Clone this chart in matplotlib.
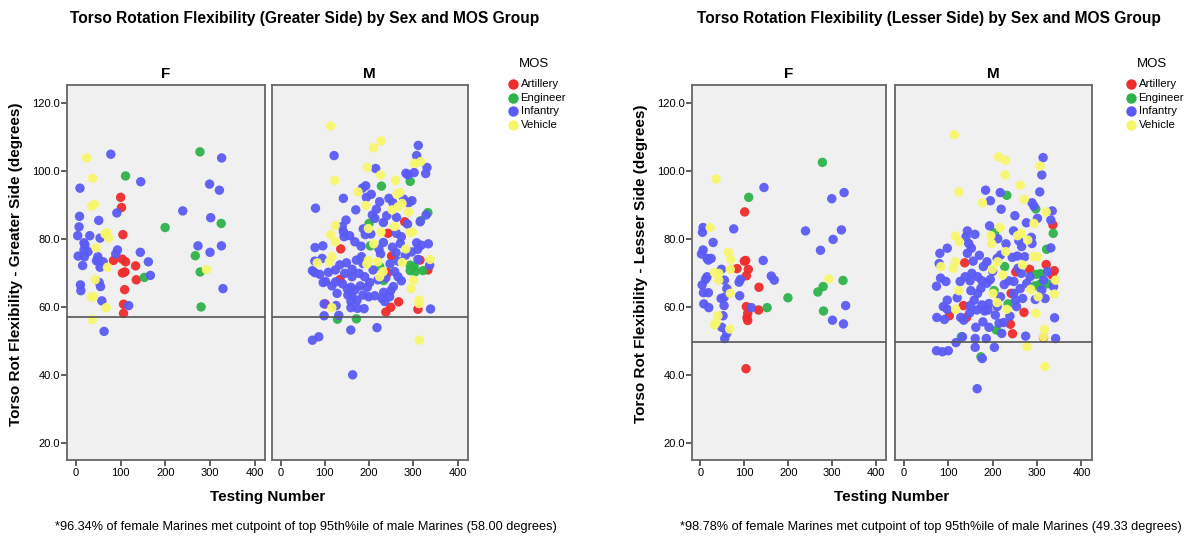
import matplotlib
matplotlib.use('Agg')
import matplotlib.pyplot as plt

plt.rcParams['font.family'] = ['Liberation Sans', 'DejaVu Sans']

W, H = 1189, 538

mos_names = ['Artillery', 'Engineer', 'Infantry', 'Vehicle']
mos_colors = ['#EE2C2C', '#2DB34A', '#5A5AF6', '#F7F76C']

titles = ['Torso Rotation Flexibility (Greater Side) by Sex and MOS Group',
          'Torso Rotation Flexibility (Lesser Side) by Sex and MOS Group']
ylabels = ['Torso Rot Flexibility - Greater Side (degrees)',
           'Torso Rot Flexibility - Lesser Side (degrees)']
notes = ['*96.34% of female Marines met cutpoint of top 95th%ile of male Marines (58.00 degrees)',
         '*98.78% of female Marines met cutpoint of top 95th%ile of male Marines (49.33 degrees)']
cutpoints = [57.0, 49.6]
yticks = [20, 40, 60, 80, 100, 120]
xticks = [0, 100, 200, 300, 400]

# ---- greater side, female: (testing number, degrees)
gF_art = [(100, 92.3), (102, 89.3), (105, 81.3), (84, 73.7), (103.5, 74.1), (111, 73.3),
          (133.5, 72.1), (104, 70), (109.5, 70.3), (135, 68), (109, 65.1), (106.5, 60.8),
          (106.5, 58.1)]
gF_eng = [(277.5, 105.7), (111, 98.6), (199.5, 83.4), (325, 84.6), (267, 75.1), (278, 70.3),
          (153, 68.7), (280, 60)]
gF_inf = [(78, 105), (9, 95), (145, 96.9), (91.5, 87.7), (8, 86.7), (51, 85.5), (7, 83.6),
          (4, 81), (31, 81), (54, 80.3), (18, 78.9), (20, 78.3), (18, 76.8), (27, 76.3),
          (5, 75), (19, 74.8), (49, 74.8), (50, 73.8), (46, 73.6), (61, 73.3), (15, 72.2),
          (54, 71.7), (93, 76.8), (89, 75.6), (144, 76.1), (162, 73.3), (166.5, 69.3),
          (10, 66.5), (11, 64.8), (52, 67.2), (55, 66), (58, 61.8), (118, 60.4), (63, 52.8),
          (239, 88.3), (326, 103.9), (299, 96.2), (321, 94.4), (301.5, 86.3), (273, 78),
          (325.5, 78), (300, 76.1), (329, 65.4)]
gF_veh = [(24, 103.9), (37.5, 97.9), (35, 89.7), (41, 90.2), (69, 81.9), (65, 81.5),
          (73, 80.3), (45, 77.4), (70.5, 71.7), (43, 68), (34, 63), (39, 63), (67.5, 59.8),
          (37, 56.3), (292, 71)]

# ---- greater side, male
gM_art = [(136, 77.1), (134.5, 68.1), (243, 81.7), (251, 75), (242.5, 70.1), (280.6, 85.1),
          (333, 70.9), (315, 73.8), (267, 61.5), (249, 59.9), (238, 58.5), (310.5, 59.3),
          (101, 60.9)]
gM_eng = [(228, 95.6), (293, 97), (333, 87.8), (200, 84.6), (203, 78), (224, 71.9),
          (233, 67.8), (293, 72.3), (302, 71.9), (293, 70.7), (304.5, 70.4), (322, 70.7),
          (128.6, 56.4), (171.5, 56.5), (316.6, 85.4)]
gM_inf = [(121, 104.6), (311.3, 107.6), (307.6, 104.6), (331, 101.1), (328, 99.3),
          (283.5, 99.4), (288, 98.9), (302, 99.6), (215, 100.8), (192.5, 95.7), (185, 95),
          (205, 93.2), (194, 92.3), (142, 92), (79, 89.1), (245, 92), (254, 90.7), (297, 91.3),
          (289.5, 90.7), (216.6, 88.8), (207.5, 87.1), (213, 86.1), (148, 85.6), (139.5, 83.7),
          (142, 82.2), (143.6, 80.7), (232.4, 84.9), (187, 83), (191.5, 81.3), (204, 81.5),
          (168, 79.2), (232.4, 79), (287, 84.4), (329, 87.1), (315.6, 85.1), (273, 80.7),
          (270.6, 78.7), (253, 77.6), (261, 76), (307.6, 78.9), (310, 77), (334, 78.6),
          (222.5, 77.1), (78, 77.5), (95.5, 78), (94, 74.3), (77.4, 73.5), (72, 70.7),
          (77.4, 70.1), (88.7, 69.6), (96.3, 67.2), (124, 70.9), (134, 72.4), (149, 73),
          (145, 69.9), (161.7, 71.1), (161.7, 68.9), (171.5, 73.8), (183, 74.8), (186.5, 72.8),
          (177.5, 69.9), (190, 68.9), (209, 70.9), (201.5, 67.2), (247.4, 72.7), (258, 70.4),
          (273, 67.7), (265.5, 68.9), (337, 72.3), (310.5, 74), (124.6, 67.4), (127.8, 64),
          (151, 65.3), (159, 65.8), (168, 65), (161, 63.2), (159, 61.7), (173, 62),
          (186.5, 63.5), (199.3, 63), (213, 63.3), (229.4, 62.5), (235.4, 61.6), (246.6, 63),
          (249, 64.8), (233, 64.3), (159, 59.8), (173.7, 59.6), (188.8, 59.5), (98.5, 60.9),
          (125.6, 60.4), (98.5, 57.4), (131.6, 57.5), (339, 59.4), (158.7, 53.2), (218, 53.9),
          (72, 50.2), (86.5, 51.2), (163, 40), (101.5, 67.5), (261.7, 81.7), (318, 78.2),
          (296, 76.2), (255, 66), (220, 68), (152, 63.5), (140, 66.8), (180, 66.2), (196, 65.8),
          (238, 68.6), (226, 75.6), (266, 73.5), (282, 75.2), (240, 86.9), (224, 91), (262, 86.4),
          (278, 91.8), (170, 88.6), (156, 81), (182, 77.9), (116, 66.2), (108, 70.2)]
gM_veh = [(113, 113.3), (210.6, 106.9), (227, 108.9), (196, 101.1), (226, 98.9),
          (122.6, 97.3), (260, 97.3), (175, 93.9), (263, 93.2), (270, 93.7), (193, 89.9),
          (274.5, 90.5), (265.5, 89.5), (252, 88.6), (289.5, 88), (303, 102.3), (316.6, 102.8),
          (124, 84), (113, 81.3), (124, 79.2), (198.5, 83.1), (258, 83.7), (227, 82), (292, 81.9),
          (298, 82.1), (210.6, 78.6), (283, 77.1), (116, 74.8), (110, 73.3), (83, 73),
          (198.5, 73.8), (195, 72.6), (220, 73.3), (275, 73.1), (338, 74), (231.6, 70.4),
          (224, 68.9), (300.8, 67.9), (295.5, 65.4), (313, 62), (313, 61), (116, 59.8),
          (313.6, 50.2)]

# ---- lesser side, female
lF_art = [(100.8, 88), (100, 73.5), (103, 73.7), (83.4, 71.3), (109, 71.1), (104.8, 69.2),
          (133.4, 65.8), (104.6, 60.1), (107.7, 58.1), (106, 56.8), (107.7, 56), (132.6, 59.1),
          (103.8, 41.8)]
lF_eng = [(278, 102.6), (110, 92.3), (325, 67.8), (279.7, 66), (267.6, 64.4), (199.4, 62.7),
          (152, 59.8), (280.5, 58.8)]
lF_inf = [(144.8, 95.2), (299.4, 91.9), (327.5, 93.7), (6, 83.4), (4.5, 82), (75.8, 83),
          (239.5, 82.4), (321.4, 82.7), (302.4, 79.9), (28.8, 79), (6, 76.8), (2.3, 75.6),
          (15, 74.3), (24.3, 74.3), (18, 73.8), (143, 73.7), (273.6, 76.7), (47.8, 71.1),
          (15, 68.9), (11.4, 68.1), (54.6, 67.9), (60, 65.4), (91, 68.1), (88, 67.3),
          (161.5, 69.1), (168.3, 67.9), (3.8, 66.5), (6.8, 64.2), (18, 64.2), (89.4, 63.3),
          (47, 62.5), (53.8, 62.8), (53.8, 60.4), (7.6, 60.9), (19, 59.8), (116, 59.8),
          (51.5, 57.4), (48.5, 54), (60, 52.2), (55.3, 50.7), (301, 56.1), (326, 55),
          (331, 60.4)]
lF_veh = [(35.6, 97.7), (22, 83.4), (63.7, 76.1), (69, 74), (68, 71.1), (32, 70.1),
          (41.7, 69.9), (41.7, 67.9), (68, 64), (40, 57.4), (32, 54.7), (35.6, 55.4),
          (66.7, 53.5), (292.6, 68.3)]

# ---- lesser side, male
lM_art = [(335.6, 84.2), (137, 73), (320.5, 72.5), (338.6, 70.7), (334, 69.4), (283, 71.1),
          (252, 70.3), (241.6, 64), (134, 60.4), (141, 56.9), (102.3, 57.4), (270.5, 58.4),
          (240, 54.9), (244.7, 52.1), (314.4, 51)]
lM_eng = [(231.8, 92.9), (297, 88.9), (336.4, 81.7), (203.8, 81.9), (321.4, 77), (227, 71.9),
          (298.5, 69.6), (307.6, 69.8), (294.7, 66.2), (306.8, 66.7), (323.5, 66.8), (203, 64.8),
          (234.8, 60.9), (208.3, 53.2), (173.5, 45.3), (129.5, 51.2)]
lM_inf = [(313.6, 104), (310.6, 98.9), (306, 93.9), (184, 94.4), (217, 93.7), (194.7, 91.3),
          (219, 88.8), (288.6, 90.7), (293, 89.7), (334, 88.3), (331, 85.6), (300.8, 86.1),
          (193, 83.9), (143, 82.4), (140, 80.7), (146, 78.7), (247, 82.4), (211.4, 80.1),
          (259, 79.5), (265.1, 77.8), (287, 80.5), (288.6, 78.7), (331, 77.4), (81, 75.8),
          (97.7, 77.3), (79.5, 72.8), (152, 77.3), (143, 75.8), (187, 73.3), (179, 71.9),
          (210, 74.3), (217.6, 75.3), (244, 74.6), (255.3, 75), (272, 74.8), (257, 71.4),
          (264.4, 69.9), (82.6, 68.5), (94.7, 67.5), (73.5, 66.1), (126.7, 67.5), (138, 68.9),
          (153, 69.9), (149, 67.7), (166, 68.9), (175.8, 67.7), (187, 67), (194.7, 68.1),
          (236.4, 67.7), (247.8, 67.5), (276.5, 66.9), (284, 68.9), (337, 66), (318, 62.5),
          (310.6, 65), (150.8, 64.8), (166, 64), (173.5, 65.5), (158.3, 62), (97.7, 62),
          (88.7, 60.1), (97.7, 59.3), (149.4, 60.4), (164.5, 59.1), (175.8, 60.6), (181.8, 58.8),
          (191.7, 61), (189.4, 59.1), (217.6, 63), (247.8, 64), (251.6, 62), (267.4, 62.5),
          (210, 60.1), (238.7, 57.3), (253.8, 60.1), (74.2, 56.9), (91.3, 56.3), (128, 56.9),
          (134.8, 56.1), (162, 54), (191.7, 54), (214.4, 55.2), (225, 55.4), (220.4, 52.2),
          (132, 51.2), (160.6, 50.7), (185.6, 50.7), (203.8, 48.1), (274.2, 51.4), (341.7, 50.7),
          (117.4, 49.5), (73.5, 47.1), (86.7, 46.8), (100, 47.1), (160.6, 48.1), (176.5, 44.8),
          (165, 35.9), (339.4, 56.8), (315, 67.9), (323.5, 70.4), (156, 73.5), (170, 75.2),
          (200, 70.5), (226, 66.6), (262, 65.4), (296, 62.2), (206, 57.6), (178, 55.6),
          (148, 58.2), (230, 78.6), (276, 84.8), (250, 86.9), (160, 81.4), (120, 62.7)]
lM_veh = [(113.6, 110.7), (213, 104.2), (229, 103.2), (228, 98.9), (306.8, 101.5), (124, 93.9),
          (262, 95.9), (177, 90.7), (271, 91.7), (320.5, 88), (293, 84.6), (216.6, 83.4),
          (116, 80.9), (125, 79.2), (196, 81), (197.7, 78.7), (256, 81), (264.4, 81.7),
          (279, 79.7), (229.5, 76.3), (291.7, 74.8), (301, 74.8), (116, 73.3), (111.4, 71.4),
          (83.3, 71.9), (211.4, 73.3), (267.4, 72.4), (199.3, 71.1), (222.7, 69.4), (341.7, 67.9),
          (124, 64.8), (200.8, 64), (285.6, 65.2), (302.3, 63), (338.6, 63.8), (210, 61.3),
          (116.7, 59.3), (231.8, 59.3), (297.7, 58.1), (316.7, 53.4), (314.4, 51.2), (277.3, 48.3),
          (317.4, 42.4)]

panels = [
    {'F': [gF_art, gF_eng, gF_inf, gF_veh], 'M': [gM_art, gM_eng, gM_inf, gM_veh]},
    {'F': [lF_art, lF_eng, lF_inf, lF_veh], 'M': [lM_art, lM_eng, lM_inf, lM_veh]},
]

# pixel boxes (left, top, right, bottom) for F and M facets of each panel
boxes = [
    [(67, 85, 265, 460), (271.7, 85, 467.7, 460)],
    [(691.7, 85, 886, 460), (895, 85, 1091.7, 460)],
]
panel_shift = [0, 624.5]
legend_shift = [0, 618]

fig = plt.figure(figsize=(W / 100, H / 100), dpi=100)


def px_axes(b):
    x0, y0, x1, y1 = b
    return fig.add_axes([x0 / W, 1 - y1 / H, (x1 - x0) / W, (y1 - y0) / H])


def fx(x):
    return x / W


def fy(y):
    return 1 - y / H


for p in range(2):
    for k, sex in enumerate(['F', 'M']):
        ax = px_axes(boxes[p][k])
        ax.set_facecolor('#F0F0F0')
        for grp, col in zip(panels[p][sex], mos_colors):
            xs = [v[0] for v in grp]
            ys = [v[1] for v in grp]
            ax.scatter(xs, ys, s=46, color=col, edgecolors='none', alpha=0.95, zorder=3)
        ax.axhline(cutpoints[p], color='#555555', lw=1.2, zorder=4)
        ax.set_xlim(-20, 423)
        ax.set_ylim(14.9, 125.4)
        ax.set_xticks(xticks)
        ax.set_xticklabels([str(t) for t in xticks], fontsize=8)
        for s in ax.spines.values():
            s.set_color('#666666')
            s.set_linewidth(1.3)
        ax.tick_params(axis='x', length=4, width=1.2, color='#444444', pad=2)
        if sex == 'F':
            ax.set_yticks(yticks)
            ax.set_yticklabels(['%.1f' % t for t in yticks], fontsize=8)
            ax.tick_params(axis='y', length=4, width=1.2, color='#444444', pad=1)
        else:
            ax.set_yticks([])
        x0, y0, x1, y1 = boxes[p][k]
        fig.text(fx((x0 + x1) / 2), fy(74), sex, ha='center', va='center',
                 fontsize=11, fontweight='bold')

    dx = panel_shift[p]
    fig.text(fx(305.5 + dx - 1), fy(18), titles[p], ha='center', va='center',
             fontsize=11.2, fontweight='bold')
    fig.text(fx(16 + dx), fy(264), ylabels[p], ha='center', va='center', rotation=90,
             fontsize=11, fontweight='bold')
    xl = (boxes[p][0][0] + boxes[p][1][2]) / 2
    fig.text(fx(xl), fy(497), 'Testing Number', ha='center', va='center',
             fontsize=11, fontweight='bold')
    fig.text(fx(306 + dx), fy(527), notes[p], ha='center', va='center', fontsize=9.2)

    # legend
    lx = legend_shift[p]
    fig.text(fx(534 + lx), fy(64), 'MOS', ha='center', va='center', fontsize=9.5)
    for i, (nm, col) in enumerate(zip(mos_names, mos_colors)):
        yy = 84.3 + i * 13.5
        fig.lines.append(plt.Line2D([fx(513.3 + lx)], [fy(yy)], marker='o', markersize=7.5,
                                    color=col, markeredgecolor='none', linestyle='none',
                                    transform=fig.transFigure))
        fig.text(fx(520.5 + lx), fy(yy), nm, ha='left', va='center', fontsize=8.2)

fig.savefig('out.png', dpi=100)
